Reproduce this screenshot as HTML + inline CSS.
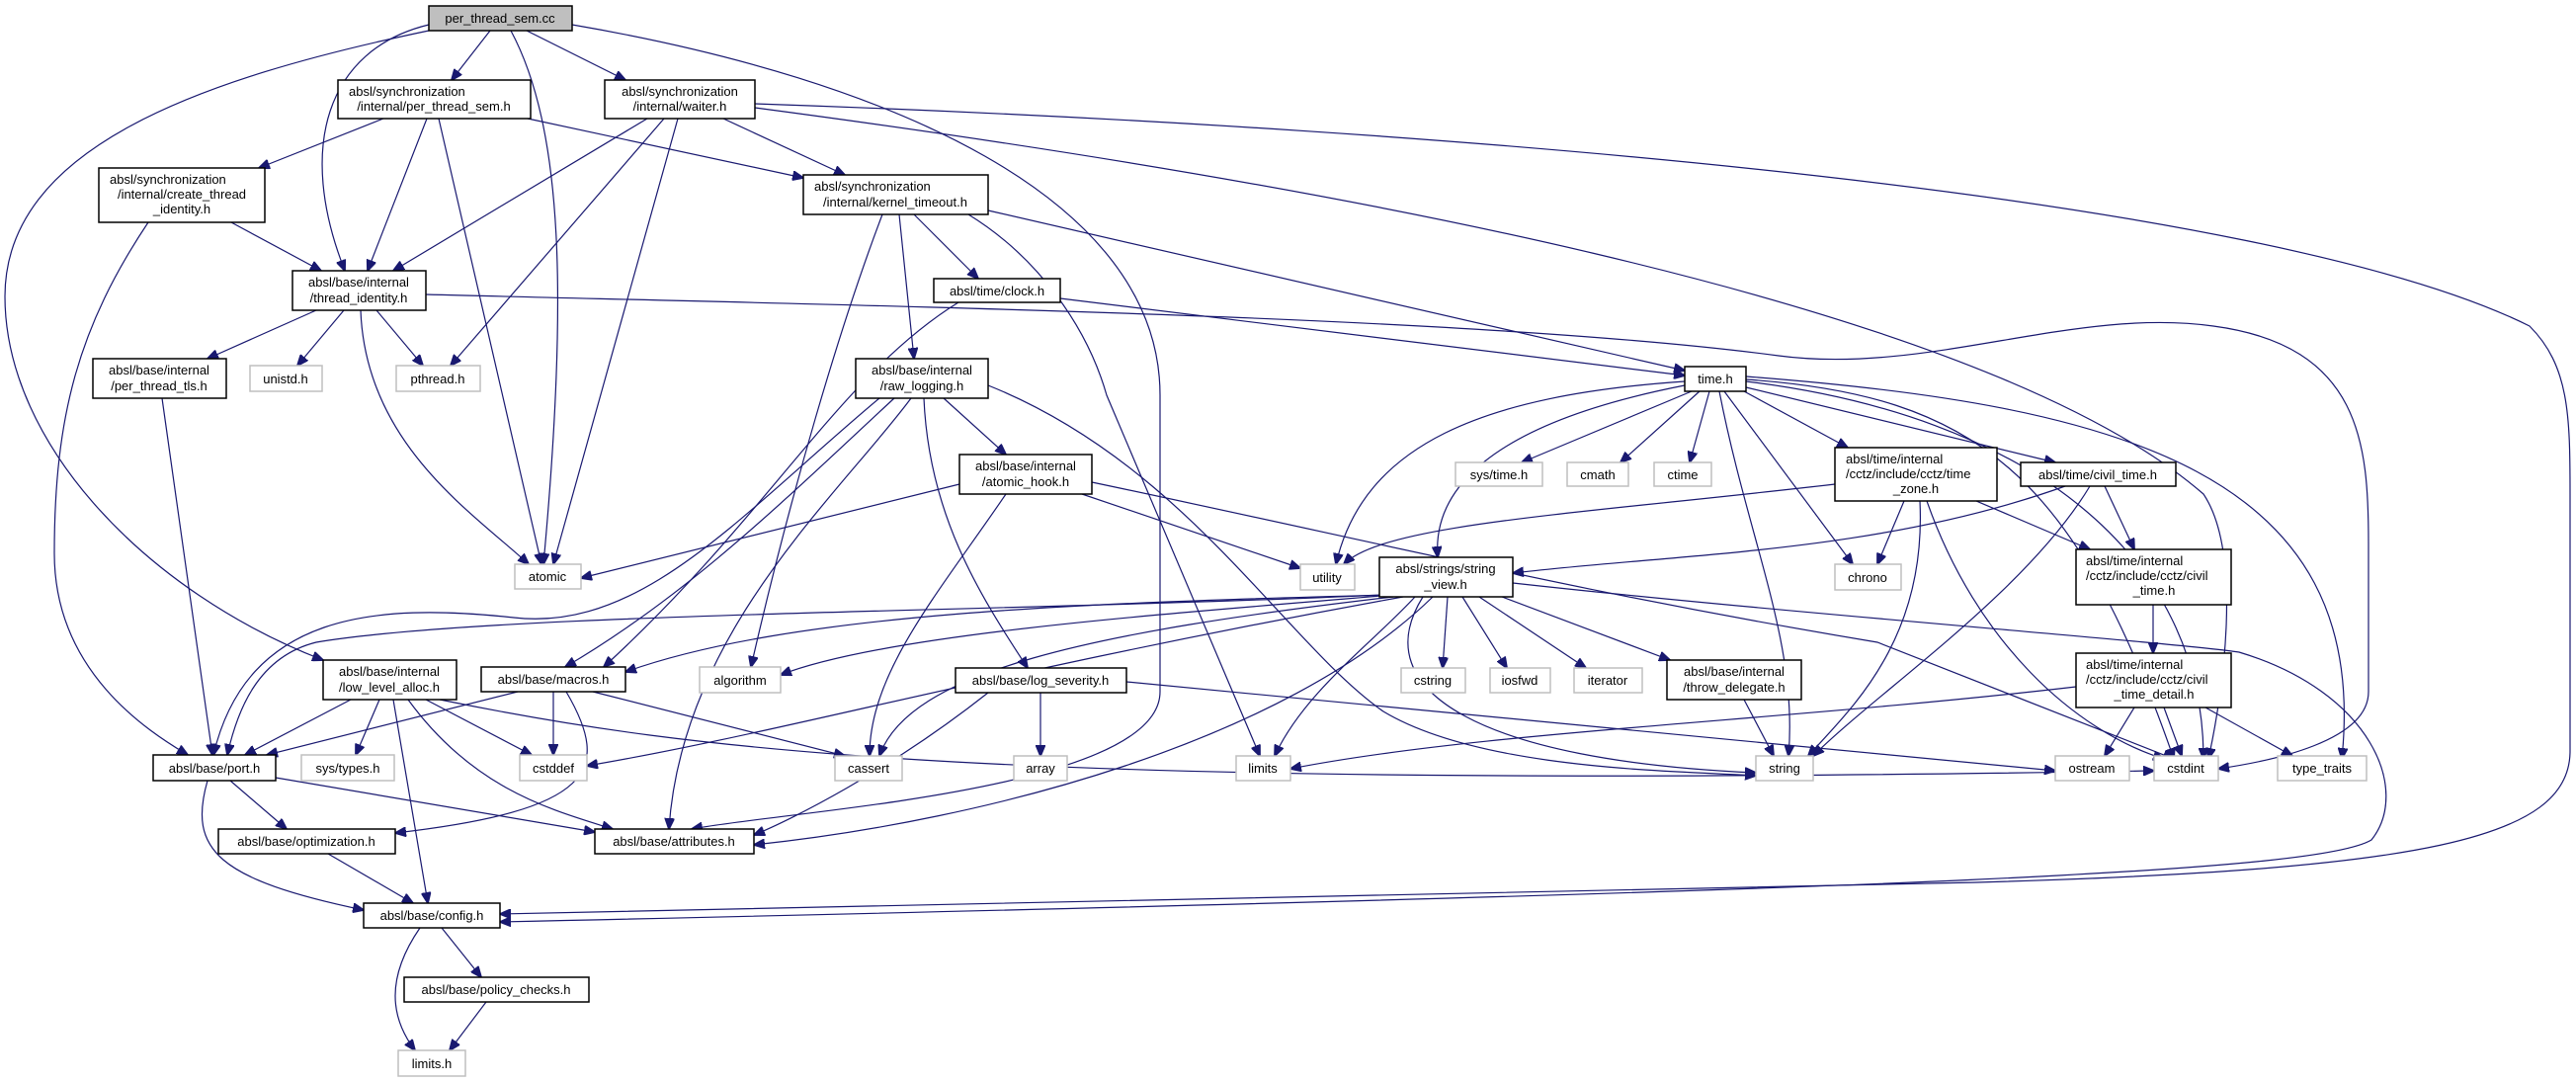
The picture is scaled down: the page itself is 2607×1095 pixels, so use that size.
<!DOCTYPE html>
<html><head><meta charset="utf-8"><style>
html,body{margin:0;padding:0;background:#fff;}
svg{display:block;}
text{font-family:"Liberation Sans","DejaVu Sans",sans-serif;font-size:13px;fill:#000;}
.n{fill:#fff;stroke:#000;stroke-width:1.5;}
.g{fill:#fff;stroke:#bfbfbf;stroke-width:1.5;}
.e{fill:none;stroke:#191970;stroke-width:1.2;marker-end:url(#a);}
</style></head><body>
<svg width="2607" height="1095" viewBox="0 0 2607 1095" xmlns="http://www.w3.org/2000/svg">
<defs><marker id="a" markerUnits="userSpaceOnUse" markerWidth="12" markerHeight="10" refX="11" refY="5" orient="auto"><path d="M0,0 L12,5 L0,10 z" fill="#191970" stroke="#191970"/></marker></defs>
<g>
<!-- edges -->
<path class="e" d="M496,31 L457,81"/>
<path class="e" d="M533,31 L633,81"/>
<path class="e" d="M434,25 C330,50 300,150 349,274"/>
<path class="e" d="M517,31 C570,130 575,300 550,571"/>
<path class="e" d="M434,31 C200,80 5,150 5,300 C5,450 150,600 327,668"/>
<path class="e" d="M579,25 C900,80 1174,200 1174,400 L1174,700 C1174,800 800,820 700,839"/>
<path class="e" d="M388,120 L262,170"/>
<path class="e" d="M432,120 L372,274"/>
<path class="e" d="M444,120 L548,571"/>
<path class="e" d="M534,120 L813,180"/>
<path class="e" d="M655,120 L398,274"/>
<path class="e" d="M672,120 L456,370"/>
<path class="e" d="M686,120 L560,571"/>
<path class="e" d="M732,120 L855,177"/>
<path class="e" d="M764,109 C1300,180 2000,300 2230,500 C2270,560 2250,700 2235,768"/>
<path class="e" d="M764,105 C1500,130 2300,200 2560,330 C2600,370 2601,420 2601,500 L2601,760 C2601,850 2450,880 2000,893 L506,925"/>
<path class="e" d="M234,225 L325,274"/>
<path class="e" d="M150,225 C80,330 55,420 55,560 C55,680 150,740 190,764"/>
<path class="e" d="M320,314 L210,363"/>
<path class="e" d="M348,314 L301,370"/>
<path class="e" d="M381,314 L428,370"/>
<path class="e" d="M365,314 C370,450 480,520 535,571"/>
<path class="e" d="M431,298 C900,310 1500,320 1800,360 C1950,380 2100,310 2240,330 C2390,350 2397,450 2397,550 L2397,700 C2397,750 2300,770 2245,778"/>
<path class="e" d="M164,403 L215,764"/>
<path class="e" d="M925,217 L990,282"/>
<path class="e" d="M910,217 L925,363"/>
<path class="e" d="M893,217 C850,330 800,500 760,675"/>
<path class="e" d="M980,217 C1050,260 1100,330 1120,400 L1275,765"/>
<path class="e" d="M1000,213 L1705,375"/>
<path class="e" d="M970,306 C850,380 780,520 611,675"/>
<path class="e" d="M1073,302 L1705,380"/>
<path class="e" d="M955,403 L1018,460"/>
<path class="e" d="M935,403 C940,520 990,600 1040,676"/>
<path class="e" d="M922,403 C850,500 690,640 677,839"/>
<path class="e" d="M905,403 C800,500 700,600 572,675"/>
<path class="e" d="M890,403 C750,520 650,640 520,625 C380,610 250,620 216,764"/>
<path class="e" d="M1000,390 C1200,470 1300,650 1400,720 C1500,780 1700,780 1777,785"/>
<path class="e" d="M971,490 L588,585"/>
<path class="e" d="M1095,500 L1316,575"/>
<path class="e" d="M1018,500 C950,600 880,680 880,765"/>
<path class="e" d="M1105,488 C1400,550 1600,600 1900,650 L2200,768"/>
<path class="e" d="M1712,396 L1540,468"/>
<path class="e" d="M1720,396 L1640,468"/>
<path class="e" d="M1730,396 L1710,468"/>
<path class="e" d="M1745,396 L1875,571"/>
<path class="e" d="M1740,396 C1770,550 1820,650 1810,765"/>
<path class="e" d="M1765,396 L1870,453"/>
<path class="e" d="M1767,392 L2080,468"/>
<path class="e" d="M1705,386 C1500,400 1380,450 1352,571"/>
<path class="e" d="M1705,390 C1500,430 1450,500 1455,564"/>
<path class="e" d="M1767,384 C2000,400 2100,480 2200,768"/>
<path class="e" d="M1767,386 C2050,420 2230,560 2230,768"/>
<path class="e" d="M1767,381 C2150,410 2400,480 2370,768"/>
<path class="e" d="M1857,490 C1600,520 1400,530 1360,571"/>
<path class="e" d="M1927,507 L1900,571"/>
<path class="e" d="M1943,507 C1950,650 1870,720 1830,765"/>
<path class="e" d="M1950,507 C2000,650 2100,740 2190,768"/>
<path class="e" d="M2000,507 L2115,556"/>
<path class="e" d="M2090,492 C1900,560 1700,560 1531,580"/>
<path class="e" d="M2115,492 C2050,600 1900,700 1835,765"/>
<path class="e" d="M2130,492 L2160,556"/>
<path class="e" d="M2179,612 L2179,661"/>
<path class="e" d="M2160,716 L2130,765"/>
<path class="e" d="M2190,716 L2208,765"/>
<path class="e" d="M2232,716 L2320,765"/>
<path class="e" d="M2101,695 C1800,730 1500,740 1306,778"/>
<path class="e" d="M1465,604 L1460,676"/>
<path class="e" d="M1480,604 L1525,676"/>
<path class="e" d="M1497,604 L1605,676"/>
<path class="e" d="M1520,604 L1690,668"/>
<path class="e" d="M1432,604 C1390,650 1320,700 1290,765"/>
<path class="e" d="M1440,604 C1380,700 1500,770 1777,782"/>
<path class="e" d="M1410,602 C1200,620 900,640 790,683"/>
<path class="e" d="M1405,602 C1100,610 800,620 633,680"/>
<path class="e" d="M1400,602 C1000,620 500,620 320,650 C260,665 240,720 230,764"/>
<path class="e" d="M1410,604 C1100,640 920,680 890,765"/>
<path class="e" d="M1420,604 C1000,680 800,740 594,775"/>
<path class="e" d="M1531,590 C1800,620 2200,650 2266,660 C2400,700 2440,800 2400,850 C2350,880 2000,900 506,933"/>
<path class="e" d="M1450,604 C1300,750 1000,830 763,855"/>
<path class="e" d="M1000,701 C900,780 800,830 763,845"/>
<path class="e" d="M1765,708 L1795,765"/>
<path class="e" d="M1053,701 L1053,765"/>
<path class="e" d="M1140,690 L2080,780"/>
<path class="e" d="M355,708 L248,764"/>
<path class="e" d="M384,708 L360,764"/>
<path class="e" d="M431,708 L538,764"/>
<path class="e" d="M413,708 C480,800 560,820 620,839"/>
<path class="e" d="M398,708 L433,914"/>
<path class="e" d="M445,708 C700,760 1000,800 2180,780"/>
<path class="e" d="M524,700 L270,764"/>
<path class="e" d="M560,700 L560,764"/>
<path class="e" d="M600,700 L855,765"/>
<path class="e" d="M573,700 C620,780 600,820 400,843"/>
<path class="e" d="M233,790 L290,839"/>
<path class="e" d="M279,787 L602,842"/>
<path class="e" d="M210,790 C190,860 220,890 368,921"/>
<path class="e" d="M332,864 L418,914"/>
<path class="e" d="M447,939 L487,989"/>
<path class="e" d="M425,939 C390,990 395,1030 420,1063"/>
<path class="e" d="M492,1014 L455,1063"/>
</g>
<g>
<!-- nodes -->
<rect x="434" y="6" width="145" height="25" fill="#bfbfbf" stroke="#000" stroke-width="1.5"/><text x="506" y="23" text-anchor="middle">per_thread_sem.cc</text>
<rect class="n" x="342" y="81" width="195" height="39"/><text x="353" y="97">absl/synchronization</text><text x="439" y="112" text-anchor="middle">/internal/per_thread_sem.h</text>
<rect class="n" x="612" y="81" width="152" height="39"/><text x="688" y="97" text-anchor="middle">absl/synchronization</text><text x="688" y="112" text-anchor="middle">/internal/waiter.h</text>
<rect class="n" x="100" y="170" width="168" height="55"/><text x="111" y="186">absl/synchronization</text><text x="184" y="201" text-anchor="middle">/internal/create_thread</text><text x="184" y="216" text-anchor="middle">_identity.h</text>
<rect class="n" x="813" y="177" width="187" height="40"/><text x="824" y="193">absl/synchronization</text><text x="906" y="209" text-anchor="middle">/internal/kernel_timeout.h</text>
<rect class="n" x="296" y="274" width="135" height="40"/><text x="363" y="290" text-anchor="middle">absl/base/internal</text><text x="363" y="306" text-anchor="middle">/thread_identity.h</text>
<rect class="n" x="945" y="282" width="128" height="24"/><text x="1009" y="299" text-anchor="middle">absl/time/clock.h</text>
<rect class="n" x="1705" y="371" width="62" height="25"/><text x="1736" y="388" text-anchor="middle">time.h</text>
<rect class="n" x="94" y="363" width="135" height="40"/><text x="161" y="379" text-anchor="middle">absl/base/internal</text><text x="161" y="395" text-anchor="middle">/per_thread_tls.h</text>
<rect class="g" x="253" y="370" width="73" height="26"/><text x="289" y="388" text-anchor="middle">unistd.h</text>
<rect class="g" x="401" y="370" width="85" height="26"/><text x="443" y="388" text-anchor="middle">pthread.h</text>
<rect class="n" x="866" y="363" width="134" height="40"/><text x="933" y="379" text-anchor="middle">absl/base/internal</text><text x="933" y="395" text-anchor="middle">/raw_logging.h</text>
<rect class="n" x="971" y="460" width="134" height="40"/><text x="1038" y="476" text-anchor="middle">absl/base/internal</text><text x="1038" y="492" text-anchor="middle">/atomic_hook.h</text>
<rect class="g" x="1473" y="468" width="88" height="24"/><text x="1517" y="485" text-anchor="middle">sys/time.h</text>
<rect class="g" x="1586" y="468" width="62" height="24"/><text x="1617" y="485" text-anchor="middle">cmath</text>
<rect class="g" x="1674" y="468" width="58" height="24"/><text x="1703" y="485" text-anchor="middle">ctime</text>
<rect class="n" x="1857" y="453" width="164" height="54"/><text x="1868" y="469">absl/time/internal</text><text x="1868" y="484">/cctz/include/cctz/time</text><text x="1939" y="499" text-anchor="middle">_zone.h</text>
<rect class="n" x="2045" y="468" width="157" height="24"/><text x="2123" y="485" text-anchor="middle">absl/time/civil_time.h</text>
<rect class="g" x="521" y="571" width="67" height="25"/><text x="554" y="588" text-anchor="middle">atomic</text>
<rect class="g" x="1316" y="571" width="55" height="26"/><text x="1343" y="589" text-anchor="middle">utility</text>
<rect class="n" x="1396" y="564" width="135" height="40"/><text x="1463" y="580" text-anchor="middle">absl/strings/string</text><text x="1463" y="596" text-anchor="middle">_view.h</text>
<rect class="g" x="1857" y="571" width="67" height="26"/><text x="1890" y="589" text-anchor="middle">chrono</text>
<rect class="n" x="2101" y="556" width="157" height="56"/><text x="2111" y="572">absl/time/internal</text><text x="2111" y="587">/cctz/include/cctz/civil</text><text x="2180" y="602" text-anchor="middle">_time.h</text>
<rect class="n" x="327" y="668" width="135" height="40"/><text x="394" y="684" text-anchor="middle">absl/base/internal</text><text x="394" y="700" text-anchor="middle">/low_level_alloc.h</text>
<rect class="n" x="487" y="675" width="146" height="25"/><text x="560" y="692" text-anchor="middle">absl/base/macros.h</text>
<rect class="g" x="708" y="675" width="82" height="26"/><text x="749" y="693" text-anchor="middle">algorithm</text>
<rect class="n" x="967" y="676" width="173" height="25"/><text x="1053" y="693" text-anchor="middle">absl/base/log_severity.h</text>
<rect class="g" x="1418" y="676" width="65" height="25"/><text x="1450" y="693" text-anchor="middle">cstring</text>
<rect class="g" x="1508" y="676" width="61" height="25"/><text x="1538" y="693" text-anchor="middle">iosfwd</text>
<rect class="g" x="1593" y="676" width="69" height="25"/><text x="1627" y="693" text-anchor="middle">iterator</text>
<rect class="n" x="1687" y="668" width="136" height="40"/><text x="1755" y="684" text-anchor="middle">absl/base/internal</text><text x="1755" y="700" text-anchor="middle">/throw_delegate.h</text>
<rect class="n" x="2101" y="661" width="157" height="55"/><text x="2111" y="677">absl/time/internal</text><text x="2111" y="692">/cctz/include/cctz/civil</text><text x="2180" y="707" text-anchor="middle">_time_detail.h</text>
<rect class="n" x="155" y="764" width="124" height="26"/><text x="217" y="782" text-anchor="middle">absl/base/port.h</text>
<rect class="g" x="305" y="764" width="94" height="26"/><text x="352" y="782" text-anchor="middle">sys/types.h</text>
<rect class="g" x="526" y="764" width="68" height="26"/><text x="560" y="782" text-anchor="middle">cstddef</text>
<rect class="g" x="845" y="765" width="68" height="25"/><text x="879" y="782" text-anchor="middle">cassert</text>
<rect class="g" x="1026" y="765" width="54" height="25"/><text x="1053" y="782" text-anchor="middle">array</text>
<rect class="g" x="1251" y="765" width="55" height="25"/><text x="1278" y="782" text-anchor="middle">limits</text>
<rect class="g" x="1777" y="765" width="58" height="25"/><text x="1806" y="782" text-anchor="middle">string</text>
<rect class="g" x="2080" y="765" width="75" height="25"/><text x="2117" y="782" text-anchor="middle">ostream</text>
<rect class="g" x="2180" y="765" width="65" height="25"/><text x="2212" y="782" text-anchor="middle">cstdint</text>
<rect class="g" x="2305" y="765" width="90" height="25"/><text x="2350" y="782" text-anchor="middle">type_traits</text>
<rect class="n" x="221" y="839" width="179" height="25"/><text x="310" y="856" text-anchor="middle">absl/base/optimization.h</text>
<rect class="n" x="602" y="839" width="161" height="25"/><text x="682" y="856" text-anchor="middle">absl/base/attributes.h</text>
<rect class="n" x="368" y="914" width="138" height="25"/><text x="437" y="931" text-anchor="middle">absl/base/config.h</text>
<rect class="n" x="409" y="989" width="187" height="25"/><text x="502" y="1006" text-anchor="middle">absl/base/policy_checks.h</text>
<rect class="g" x="403" y="1063" width="68" height="26"/><text x="437" y="1081" text-anchor="middle">limits.h</text>
</g>
</svg>
</body></html>
